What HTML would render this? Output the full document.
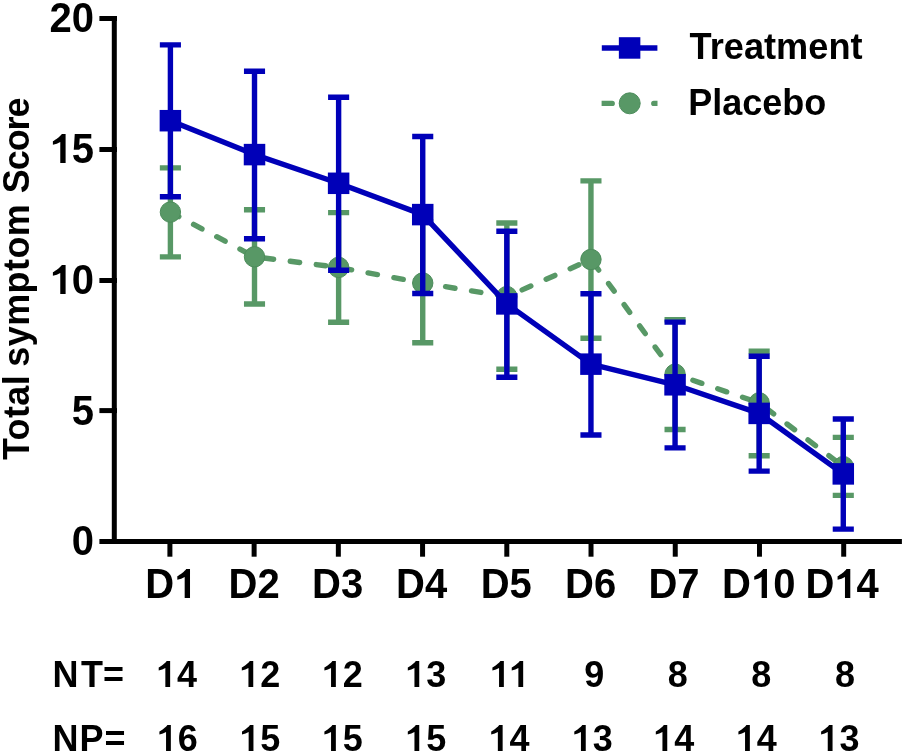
<!DOCTYPE html><html><head><meta charset="utf-8"><style>html,body{margin:0;padding:0;background:#fff;}svg{display:block;}text{font-family:"Liberation Sans",sans-serif;font-weight:bold;fill:#000;}svg{will-change:transform;}</style></head><body>
<svg width="905" height="754" viewBox="0 0 905 754">
<defs><clipPath id="lg"><rect x="601.6" y="90" width="55.9" height="30"/></clipPath></defs>
<rect width="905" height="754" fill="#fff"/>
<g stroke="#000" stroke-width="5" fill="none">
<path d="M114.3 16V544"/>
<path d="M99.4 18.5 H117"/>
<path d="M99.4 149.5 H117"/>
<path d="M99.4 280.5 H117"/>
<path d="M99.4 410.6 H117"/>
<path d="M99.4 541.5H901.9"/>
<path d="M169.9 541.5V556.7"/>
<path d="M254.12 541.5V556.7"/>
<path d="M338.35 541.5V556.7"/>
<path d="M422.57 541.5V556.7"/>
<path d="M506.8 541.5V556.7"/>
<path d="M591.02 541.5V556.7"/>
<path d="M675.25 541.5V556.7"/>
<path d="M759.47 541.5V556.7"/>
<path d="M843.7 541.5V556.7"/>
</g>
<g fill="#000">
<text transform="translate(49.61 32.4) scale(1 1.04)" font-size="40">2</text><text transform="translate(71.85 32.4) scale(1 1.04)" font-size="40">0</text>
<path d="M819 0H546V1063Q380 960 168 924V1097C300 1160 560 1350 623 1460H819Z" transform="translate(49.61 163) scale(0.01953 -0.01986)"/><text transform="translate(71.85 163.4) scale(1 1.04)" font-size="40">5</text>
<path d="M819 0H546V1063Q380 960 168 924V1097C300 1160 560 1350 623 1460H819Z" transform="translate(49.61 294) scale(0.01953 -0.01986)"/><text transform="translate(71.85 294.4) scale(1 1.04)" font-size="40">0</text>
<text transform="translate(71.85 424.5) scale(1 1.04)" font-size="40">5</text>
<text transform="translate(71.85 555.4) scale(1 1.04)" font-size="40">0</text>
<text transform="translate(145.13 598) scale(1 1.04)" font-size="40">D</text><path d="M819 0H546V1063Q380 960 168 924V1097C300 1160 560 1350 623 1460H819Z" transform="translate(174.02 598) scale(0.01953 -0.01986)"/>
<text transform="translate(228.56 598) scale(1 1.04)" font-size="40">D</text><text transform="translate(257.45 598) scale(1 1.04)" font-size="40">2</text>
<text transform="translate(312.08 598) scale(1 1.04)" font-size="40">D</text><text transform="translate(340.97 598) scale(1 1.04)" font-size="40">3</text>
<text transform="translate(396.01 598) scale(1 1.04)" font-size="40">D</text><text transform="translate(424.9 598) scale(1 1.04)" font-size="40">4</text>
<text transform="translate(480.73 598) scale(1 1.04)" font-size="40">D</text><text transform="translate(509.62 598) scale(1 1.04)" font-size="40">5</text>
<text transform="translate(565.06 598) scale(1 1.04)" font-size="40">D</text><text transform="translate(593.95 598) scale(1 1.04)" font-size="40">6</text>
<text transform="translate(648.38 598) scale(1 1.04)" font-size="40">D</text><text transform="translate(677.27 598) scale(1 1.04)" font-size="40">7</text>
<text transform="translate(722.09 598) scale(1 1.04)" font-size="40">D</text><path d="M819 0H546V1063Q380 960 168 924V1097C300 1160 560 1350 623 1460H819Z" transform="translate(750.97 598) scale(0.01953 -0.01986)"/><text transform="translate(773.22 598) scale(1 1.04)" font-size="40">0</text>
<text transform="translate(805.41 598) scale(1 1.04)" font-size="40">D</text><path d="M819 0H546V1063Q380 960 168 924V1097C300 1160 560 1350 623 1460H819Z" transform="translate(834.3 598) scale(0.01953 -0.01986)"/><text transform="translate(856.54 598) scale(1 1.04)" font-size="40">4</text>
<text transform="translate(52.49 687) scale(1 1.04)" font-size="36">N</text><text transform="translate(81 687) scale(1 1.04)" font-size="36">T</text><text transform="translate(102.91 687) scale(1 1.04)" font-size="36">=</text>
<text transform="translate(52.49 751) scale(1 1.04)" font-size="36">N</text><text transform="translate(79.59 751) scale(1 1.04)" font-size="36">P</text><text transform="translate(104.61 751) scale(1 1.04)" font-size="36">=</text>
<path d="M819 0H546V1063Q380 960 168 924V1097C300 1160 560 1350 623 1460H819Z" transform="translate(155.75 687) scale(0.01758 -0.01781)"/><text transform="translate(177.07 687) scale(1 1.04)" font-size="36">4</text>
<path d="M819 0H546V1063Q380 960 168 924V1097C300 1160 560 1350 623 1460H819Z" transform="translate(238.85 687) scale(0.01758 -0.01781)"/><text transform="translate(260.17 687) scale(1 1.04)" font-size="36">2</text>
<path d="M819 0H546V1063Q380 960 168 924V1097C300 1160 560 1350 623 1460H819Z" transform="translate(321.45 687) scale(0.01758 -0.01781)"/><text transform="translate(342.77 687) scale(1 1.04)" font-size="36">2</text>
<path d="M819 0H546V1063Q380 960 168 924V1097C300 1160 560 1350 623 1460H819Z" transform="translate(404.85 687) scale(0.01758 -0.01781)"/><text transform="translate(426.17 687) scale(1 1.04)" font-size="36">3</text>
<path d="M819 0H546V1063Q380 960 168 924V1097C300 1160 560 1350 623 1460H819Z" transform="translate(489.45 687) scale(0.01758 -0.01781)"/><path d="M819 0H546V1063Q380 960 168 924V1097C300 1160 560 1350 623 1460H819Z" transform="translate(508.78 687) scale(0.01758 -0.01781)"/>
<text transform="translate(584.25 687) scale(1 1.04)" font-size="36">9</text>
<text transform="translate(667.76 687) scale(1 1.04)" font-size="36">8</text>
<text transform="translate(751.16 687) scale(1 1.04)" font-size="36">8</text>
<text transform="translate(834.96 687) scale(1 1.04)" font-size="36">8</text>
<path d="M819 0H546V1063Q380 960 168 924V1097C300 1160 560 1350 623 1460H819Z" transform="translate(156.45 751) scale(0.01758 -0.01781)"/><text transform="translate(177.77 751) scale(1 1.04)" font-size="36">6</text>
<path d="M819 0H546V1063Q380 960 168 924V1097C300 1160 560 1350 623 1460H819Z" transform="translate(239.05 751) scale(0.01758 -0.01781)"/><text transform="translate(260.37 751) scale(1 1.04)" font-size="36">5</text>
<path d="M819 0H546V1063Q380 960 168 924V1097C300 1160 560 1350 623 1460H819Z" transform="translate(321.45 751) scale(0.01758 -0.01781)"/><text transform="translate(342.77 751) scale(1 1.04)" font-size="36">5</text>
<path d="M819 0H546V1063Q380 960 168 924V1097C300 1160 560 1350 623 1460H819Z" transform="translate(404.85 751) scale(0.01758 -0.01781)"/><text transform="translate(426.17 751) scale(1 1.04)" font-size="36">5</text>
<path d="M819 0H546V1063Q380 960 168 924V1097C300 1160 560 1350 623 1460H819Z" transform="translate(488.25 751) scale(0.01758 -0.01781)"/><text transform="translate(509.57 751) scale(1 1.04)" font-size="36">4</text>
<path d="M819 0H546V1063Q380 960 168 924V1097C300 1160 560 1350 623 1460H819Z" transform="translate(571.35 751) scale(0.01758 -0.01781)"/><text transform="translate(592.67 751) scale(1 1.04)" font-size="36">3</text>
<path d="M819 0H546V1063Q380 960 168 924V1097C300 1160 560 1350 623 1460H819Z" transform="translate(652.85 751) scale(0.01758 -0.01781)"/><text transform="translate(674.17 751) scale(1 1.04)" font-size="36">4</text>
<path d="M819 0H546V1063Q380 960 168 924V1097C300 1160 560 1350 623 1460H819Z" transform="translate(735.45 751) scale(0.01758 -0.01781)"/><text transform="translate(756.77 751) scale(1 1.04)" font-size="36">4</text>
<path d="M819 0H546V1063Q380 960 168 924V1097C300 1160 560 1350 623 1460H819Z" transform="translate(818.15 751) scale(0.01758 -0.01781)"/><text transform="translate(839.47 751) scale(1 1.04)" font-size="36">3</text>
</g>
<g transform="rotate(-90)">
<text transform="translate(-460.1 29.3) scale(1 1.03)" font-size="36">T</text><text transform="translate(-440.4 29.3) scale(1 1.03)" font-size="36">o</text><text transform="translate(-418.03 29.3) scale(1 1.03)" font-size="36">t</text><text transform="translate(-405.66 29.3) scale(1 1.03)" font-size="36">a</text><text transform="translate(-385.25 29.3) scale(1 1.03)" font-size="36">l</text>
<text transform="translate(-366.77 29.3) scale(1 1.03)" font-size="36">s</text><text transform="translate(-346.32 29.3) scale(1 1.03)" font-size="36">y</text><text transform="translate(-325.87 29.3) scale(1 1.03)" font-size="36">m</text><text transform="translate(-293.43 29.3) scale(1 1.03)" font-size="36">p</text><text transform="translate(-271.01 29.3) scale(1 1.03)" font-size="36">t</text><text transform="translate(-258.6 29.3) scale(1 1.03)" font-size="36">o</text><text transform="translate(-236.18 29.3) scale(1 1.03)" font-size="36">m</text>
<text transform="translate(-193.14 29.3) scale(1 1.03)" font-size="36">S</text><text transform="translate(-170.25 29.3) scale(1 1.03)" font-size="36">c</text><text transform="translate(-151.35 29.3) scale(1 1.03)" font-size="36">o</text><text transform="translate(-130.48 29.3) scale(1 1.03)" font-size="36">r</text><text transform="translate(-117.59 29.3) scale(1 1.03)" font-size="36">e</text>
</g>
<g stroke="#589866" stroke-width="5.4" fill="none">
<path d="M170.4 167.9V256.9M159.85 167.9H180.95M159.85 256.9H180.95"/>
<path d="M254.51 209.8V304M243.96 209.8H265.06M243.96 304H265.06"/>
<path d="M338.62 212.6V322.2M328.07 212.6H349.17M328.07 322.2H349.17"/>
<path d="M422.73 221.8V342.8M412.18 221.8H433.28M412.18 342.8H433.28"/>
<path d="M506.84 223V369.3M496.29 223H517.39M496.29 369.3H517.39"/>
<path d="M590.95 180.9V338.3M580.4 180.9H601.5M580.4 338.3H601.5"/>
<path d="M675.06 319.7V429.5M664.51 319.7H685.61M664.51 429.5H685.61"/>
<path d="M759.17 351.2V455.8M748.62 351.2H769.72M748.62 455.8H769.72"/>
<path d="M843.28 437.4V495.4M832.73 437.4H853.83M832.73 495.4H853.83"/>
</g>
<polyline points="170.4,212.1 254.51,256.8 338.62,267.4 422.73,283 506.84,296.6 590.95,259.5 675.06,374.2 759.17,402.9 843.28,466.6" fill="none" stroke="#589866" stroke-width="5.4" stroke-dasharray="9.5 16.75" stroke-linecap="round"/>
<circle cx="170.4" cy="212.1" r="10.2" fill="#589866" stroke="#4c8c5b" stroke-width="1"/>
<circle cx="254.51" cy="256.8" r="10.2" fill="#589866" stroke="#4c8c5b" stroke-width="1"/>
<circle cx="338.62" cy="267.4" r="10.2" fill="#589866" stroke="#4c8c5b" stroke-width="1"/>
<circle cx="422.73" cy="283" r="10.2" fill="#589866" stroke="#4c8c5b" stroke-width="1"/>
<circle cx="506.84" cy="296.6" r="10.2" fill="#589866" stroke="#4c8c5b" stroke-width="1"/>
<circle cx="590.95" cy="259.5" r="10.2" fill="#589866" stroke="#4c8c5b" stroke-width="1"/>
<circle cx="675.06" cy="374.2" r="10.2" fill="#589866" stroke="#4c8c5b" stroke-width="1"/>
<circle cx="759.17" cy="402.9" r="10.2" fill="#589866" stroke="#4c8c5b" stroke-width="1"/>
<circle cx="843.28" cy="466.6" r="10.2" fill="#589866" stroke="#4c8c5b" stroke-width="1"/>
<g stroke="#0000b8" stroke-width="5.4" fill="none">
<path d="M170.4 44.9V196.7M159.85 44.9H180.95M159.85 196.7H180.95"/>
<path d="M254.51 71.2V238.7M243.96 71.2H265.06M243.96 238.7H265.06"/>
<path d="M338.62 97.2V270.3M328.07 97.2H349.17M328.07 270.3H349.17"/>
<path d="M422.73 136.5V293.5M412.18 136.5H433.28M412.18 293.5H433.28"/>
<path d="M506.84 231.25V377.3M496.29 231.25H517.39M496.29 377.3H517.39"/>
<path d="M590.95 293.75V435M580.4 293.75H601.5M580.4 435H601.5"/>
<path d="M675.06 322.1V447.9M664.51 322.1H685.61M664.51 447.9H685.61"/>
<path d="M759.17 356.3V471.1M748.62 356.3H769.72M748.62 471.1H769.72"/>
<path d="M843.28 419V529.1M832.73 419H853.83M832.73 529.1H853.83"/>
</g>
<polyline points="170.4,120.7 254.51,154.6 338.62,183.3 422.73,214.6 506.84,303.9 590.95,364.15 675.06,384.8 759.17,413.4 843.28,473.9" fill="none" stroke="#0000b8" stroke-width="5.4" stroke-linejoin="round"/>
<rect x="159.65" y="109.95" width="21.5" height="21.5" fill="#0000b8"/>
<rect x="243.76" y="143.85" width="21.5" height="21.5" fill="#0000b8"/>
<rect x="327.87" y="172.55" width="21.5" height="21.5" fill="#0000b8"/>
<rect x="411.98" y="203.85" width="21.5" height="21.5" fill="#0000b8"/>
<rect x="496.09" y="293.15" width="21.5" height="21.5" fill="#0000b8"/>
<rect x="580.2" y="353.4" width="21.5" height="21.5" fill="#0000b8"/>
<rect x="664.31" y="374.05" width="21.5" height="21.5" fill="#0000b8"/>
<rect x="748.42" y="402.65" width="21.5" height="21.5" fill="#0000b8"/>
<rect x="832.53" y="463.15" width="21.5" height="21.5" fill="#0000b8"/>
<path d="M601.8 47.95H657.4" stroke="#0000b8" stroke-width="5.4"/>
<rect x="618.85" y="37.2" width="21.5" height="21.5" fill="#0000b8"/>
<g clip-path="url(#lg)"><path d="M596 103.4H612.2M653.8 103.4H665" stroke="#589866" stroke-width="5.4" stroke-linecap="round"/></g>
<circle cx="629.7" cy="103.3" r="10.5" fill="#589866" stroke="#4c8c5b" stroke-width="1"/>
<text transform="translate(689.6 59.3) scale(1 1.03)" font-size="36.2">Treatment</text>
<text transform="translate(688.2 114.9) scale(1 1.03)" font-size="36">Placebo</text>
</svg></body></html>
